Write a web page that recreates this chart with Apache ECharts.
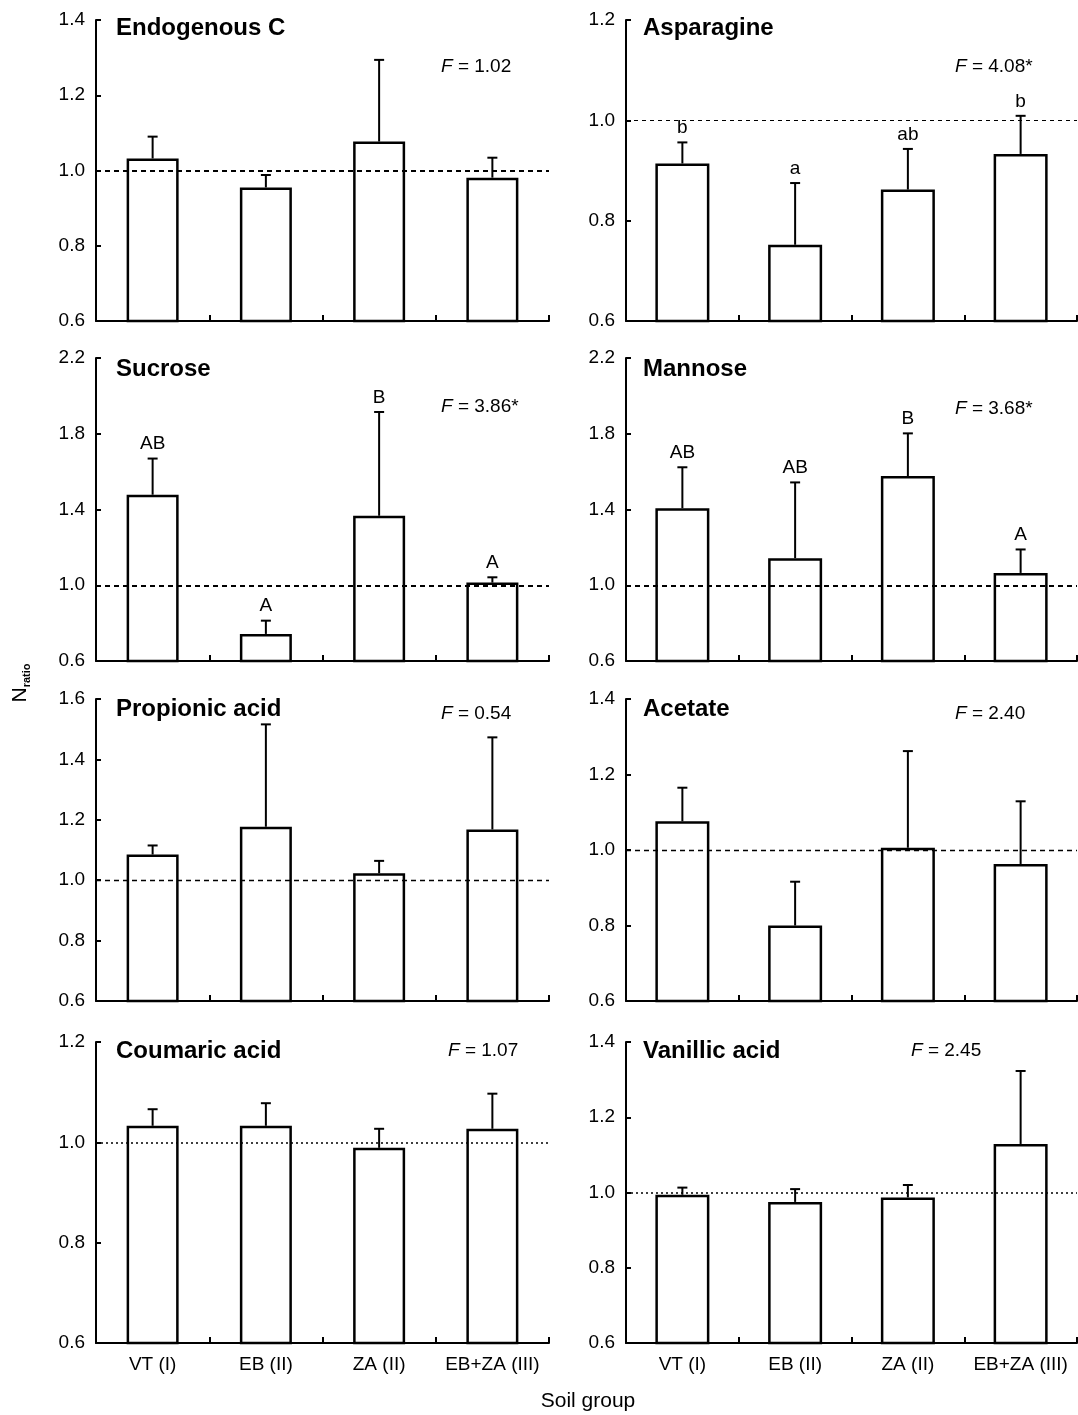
<!DOCTYPE html>
<html>
<head>
<meta charset="utf-8">
<title>N ratio by soil group</title>
<script src="https://cdn.jsdelivr.net/npm/echarts@6/dist/echarts.min.js"></script>
<style>
  html, body { margin: 0; padding: 0; background: #fff; }
  #main { width: 1078px; height: 1415px; }
</style>
</head>
<body>
<div id="main"></div>
<script>
// soil groups on the x axis
var groups = ['VT (I)', 'EB (II)', 'ZA (II)', 'EB+ZA (III)'];

// mean N ratio and standard error, per substrate
var endogenousMean = [1.032, 0.955, 1.077, 0.981];
var endogenousSe   = [0.058, 0.033, 0.217, 0.053];

var asparagineMean = [0.914, 0.752, 0.862, 0.933];
var asparagineSe   = [0.042, 0.123, 0.081, 0.076];
var asparagineLetters = ['b', 'a', 'ab', 'b'];

var sucroseMean = [1.478, 0.743, 1.367, 1.014];
var sucroseSe   = [0.191, 0.070, 0.548, 0.028];
var sucroseLetters = ['AB', 'A', 'B', 'A'];

var mannoseMean = [1.407, 1.143, 1.577, 1.065];
var mannoseSe   = [0.216, 0.400, 0.225, 0.124];
var mannoseLetters = ['AB', 'AB', 'B', 'A'];

var propionicMean = [1.085, 1.177, 1.023, 1.168];
var propionicSe   = [0.030, 0.339, 0.041, 0.305];

var acetateMean = [1.076, 0.800, 1.006, 0.963];
var acetateSe   = [0.089, 0.116, 0.256, 0.166];

var coumaricMean = [1.033, 1.033, 0.989, 1.027];
var coumaricSe   = [0.033, 0.045, 0.038, 0.070];

var vanillicMean = [0.994, 0.975, 0.987, 1.129];
var vanillicSe   = [0.019, 0.034, 0.033, 0.194];

// y tick labels
var ticks14 = [0.6, 0.8, 1.0, 1.2, 1.4];
var ticks12 = [0.6, 0.8, 1.0, 1.2];
var ticks16 = [0.6, 0.8, 1.0, 1.2, 1.4, 1.6];
var ticks22 = [0.6, 1.0, 1.4, 1.8, 2.2];

var fStats = ['1.02', '4.08*', '3.86*', '3.68*', '0.54', '2.40', '1.07', '2.45'];

var panels = [
  { name: 'Endogenous C',   mean: endogenousMean, se: endogenousSe, letters: null, ticks: ticks14 },
  { name: 'Asparagine',     mean: asparagineMean, se: asparagineSe, letters: asparagineLetters, ticks: ticks12 },
  { name: 'Sucrose',        mean: sucroseMean,    se: sucroseSe,    letters: sucroseLetters, ticks: ticks22 },
  { name: 'Mannose',        mean: mannoseMean,    se: mannoseSe,    letters: mannoseLetters, ticks: ticks22 },
  { name: 'Propionic acid', mean: propionicMean,  se: propionicSe,  letters: null, ticks: ticks16 },
  { name: 'Acetate',        mean: acetateMean,    se: acetateSe,    letters: null, ticks: ticks14 },
  { name: 'Coumaric acid',  mean: coumaricMean,   se: coumaricSe,   letters: null, ticks: ticks12 },
  { name: 'Vanillic acid',  mean: vanillicMean,   se: vanillicSe,   letters: null, ticks: ticks14 }
];

// layout
var FONT = '"Liberation Sans", Arial, sans-serif';
var cols = [
  { left: 96, width: 453, titleX: 116, barWidth: 52 },
  { left: 626, width: 451, titleX: 643, barWidth: 54 }
];
var rows = [
  { top: 20, height: 301, titleY: 28 },
  { top: 358, height: 303, titleY: 369 },
  { top: 699, height: 302, titleY: 709 },
  { top: 1042, height: 301, titleY: 1051 }
];
var fPos = [[441, 67], [955, 67], [441, 407], [955, 409], [441, 714], [955, 714], [448, 1051], [911, 1051]];
var refLines = [
  { width: 2, type: [5, 4] },
  { width: 1.2, type: [4, 4] },
  { width: 2, type: [5, 4] },
  { width: 2, type: [5, 4] },
  { width: 1.3, type: [5, 4] },
  { width: 1.3, type: [5, 4] },
  { width: 1.5, type: [2, 3] },
  { width: 1.5, type: [2, 3] }
];

function errorBars(letters) {
  return function (params, api) {
    var k = api.value(0);
    var base = api.coord([k, api.value(1)]);
    var top = api.coord([k, api.value(2)]);
    var kids = [
      { type: 'line', shape: { x1: base[0], y1: base[1], x2: top[0], y2: top[1] }, style: { stroke: '#000', lineWidth: 2 } },
      { type: 'line', shape: { x1: top[0] - 5, y1: top[1], x2: top[0] + 5, y2: top[1] }, style: { stroke: '#000', lineWidth: 2 } }
    ];
    if (letters) {
      kids.push({
        type: 'text', x: top[0], y: top[1] - 5,
        style: { text: letters[params.dataIndex], align: 'center', verticalAlign: 'bottom', fill: '#000', font: '19px ' + FONT }
      });
    }
    return { type: 'group', children: kids };
  };
}

var grid = [], xAxis = [], yAxis = [], series = [], graphic = [];

panels.forEach(function (p, i) {
  var c = cols[i % 2], r = rows[Math.floor(i / 2)];
  grid.push({ left: c.left, top: r.top, width: c.width, height: r.height });
  xAxis.push({
    type: 'category', gridIndex: i, data: groups,
    axisLine: { lineStyle: { color: '#000', width: 2 } },
    axisTick: { show: true, inside: true, length: 6, interval: 0, lineStyle: { color: '#000', width: 2 } },
    axisLabel: { show: i >= 6, interval: 0, margin: 12, color: '#000', fontSize: 19, fontFamily: FONT }
  });
  yAxis.push({
    type: 'value', gridIndex: i,
    min: p.ticks[0], max: p.ticks[p.ticks.length - 1],
    axisLine: { show: true, lineStyle: { color: '#000', width: 2 } },
    axisTick: { show: true, inside: true, length: 5, customValues: p.ticks, lineStyle: { color: '#000', width: 2 } },
    axisLabel: {
      customValues: p.ticks, margin: 11, color: '#000', fontSize: 19, fontFamily: FONT,
      formatter: function (v) { return v.toFixed(1); }
    },
    splitLine: { show: false }
  });
  series.push({
    type: 'bar', xAxisIndex: i, yAxisIndex: i, data: p.mean, barWidth: c.barWidth,
    itemStyle: { color: '#fff', borderColor: '#000', borderWidth: 2.5 },
    markLine: {
      silent: true, symbol: 'none', label: { show: false },
      lineStyle: { color: '#000', width: refLines[i].width, type: refLines[i].type },
      data: [{ yAxis: 1 }]
    }
  });
  series.push({
    type: 'custom', xAxisIndex: i, yAxisIndex: i, clip: false, z: 6,
    data: p.mean.map(function (m, k) { return [k, m, m + p.se[k]]; }),
    encode: { x: 0, y: [1, 2] },
    renderItem: errorBars(p.letters)
  });
  graphic.push({
    type: 'text', x: c.titleX, y: r.titleY,
    style: { text: p.name, font: 'bold 24px ' + FONT, fill: '#000', align: 'left', verticalAlign: 'middle' }
  });
  graphic.push({
    type: 'text', x: fPos[i][0], y: fPos[i][1],
    style: {
      text: '{i|F}{r| = ' + fStats[i] + '}',
      fill: '#000', align: 'left', verticalAlign: 'middle',
      rich: {
        i: { fontStyle: 'italic', fontSize: 19, fontFamily: FONT, fill: '#000' },
        r: { fontSize: 19, fontFamily: FONT, fill: '#000' }
      }
    }
  });
});

graphic.push({
  type: 'text', x: 20, y: 683, rotation: Math.PI / 2,
  style: {
    text: '{n|N}{s|ratio}', align: 'center', verticalAlign: 'middle',
    rich: {
      n: { fontSize: 21, lineHeight: 24, fontFamily: FONT, fill: '#000' },
      s: { fontSize: 11, lineHeight: 11, fontWeight: 'bold', verticalAlign: 'bottom', fontFamily: FONT, fill: '#000' }
    }
  }
});
graphic.push({
  type: 'text', x: 588, y: 1401,
  style: { text: 'Soil group', font: '21px ' + FONT, fill: '#000', align: 'center', verticalAlign: 'middle' }
});

var myChart = echarts.init(document.getElementById('main'));
myChart.setOption({
  animation: false,
  backgroundColor: '#fff',
  grid: grid,
  xAxis: xAxis,
  yAxis: yAxis,
  series: series,
  graphic: graphic
});
</script>
</body>
</html>
